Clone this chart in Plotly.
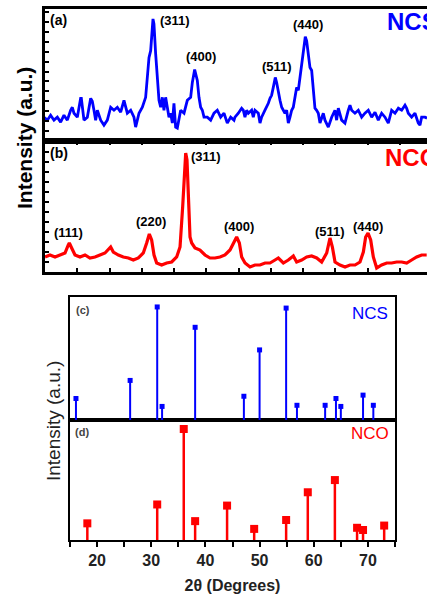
import plotly.graph_objects as go

# ---------------- data ----------------
# (a) measured XRD pattern of NCS (2theta in degrees, intensity in a.u.)
ncs_two_theta = [14.84, 15.36, 15.87, 16.39, 16.91, 17.42, 17.94, 18.46, 18.97, 19.23, 19.49, 20.01,
                 20.52, 20.63, 21.04, 21.56, 22.08, 22.33, 22.59, 22.85, 23.11, 23.63, 24.14, 24.66,
                 25.18, 25.69, 26.21, 26.73, 27.24, 27.76, 28.28, 28.79, 29.05, 29.57, 30.09, 30.60,
                 31.12, 31.38, 31.74, 31.89, 32.15, 32.41, 32.67, 32.93, 33.19, 33.44, 33.70, 33.96,
                 34.22, 34.48, 34.74, 34.99, 35.25, 35.51, 35.77, 36.03, 36.55, 36.80, 37.06, 37.58,
                 37.84, 38.20, 38.35, 38.61, 38.87, 39.13, 39.39, 39.65, 40.16, 40.68, 41.20, 41.71,
                 42.23, 42.75, 43.26, 43.78, 44.30,
                 44.45, 44.97, 45.48, 45.74, 46.00, 46.26, 46.52, 47.03, 47.29, 47.55, 48.07, 48.33,
                 48.58, 49.10, 49.36, 49.62, 49.88, 50.13, 50.39, 50.70, 50.91, 51.17, 51.43, 51.69,
                 51.94, 52.20, 52.46, 52.72, 52.98, 53.24, 53.49, 53.75, 54.01, 54.27, 54.53, 54.79,
                 55.04, 55.35, 55.56, 55.82, 56.08, 56.34, 56.59, 56.85, 57.11, 57.37, 57.63, 57.89,
                 58.14, 58.40, 58.92, 59.44, 59.95, 60.21, 60.47, 60.99, 61.50, 62.02, 62.28, 62.54,
                 63.05, 63.57, 64.09, 64.60, 65.12, 65.64, 66.16, 66.67, 67.19, 67.71, 68.22, 68.74,
                 69.26, 69.78, 70.29, 70.81, 71.07, 71.32, 71.84, 72.36, 72.87, 73.13, 73.39, 73.91,
                 74.22]
ncs_intensity = [24, 21, 26, 21, 24, 19, 26, 21, 31, 34, 28, 24,
                 43, 43, 21, 24, 43, 40, 31, 21, 31, 21, 16, 21,
                 34, 31, 34, 29, 41, 28, 31, 24, 14, 28, 34, 44,
                 84, 91, 123, 118, 88, 61, 41, 34, 44, 31, 44, 34,
                 24, 28, 18, 38, 14, 13, 21, 31, 28, 34, 41, 44,
                 59, 72, 68, 61, 44, 34, 31, 24, 24, 21, 28, 31,
                 24, 28, 18, 24, 21,
                 24, 28, 33, 31, 24, 31, 28, 31, 24, 31, 28, 18,
                 24, 31, 34, 38, 43, 46, 54, 64, 59, 48, 41, 34,
                 31, 28, 31, 18, 24, 31, 34, 44, 54, 51, 64, 78,
                 94, 105, 101, 88, 74, 71, 51, 33, 31, 28, 18, 24,
                 28, 21, 14, 24, 31, 21, 33, 21, 18, 31, 36, 31,
                 28, 31, 24, 28, 31, 24, 29, 21, 28, 24, 18, 31,
                 28, 33, 31, 36, 33, 28, 24, 28, 18, 16, 24, 24,
                 23]

# (b) measured XRD pattern of NCO
nco_two_theta = [15.00, 15.77, 16.55, 17.32, 18.10, 18.61, 18.77, 19.13, 19.65, 20.42, 21.20, 21.97,
                 22.75, 23.52, 24.30, 25.18, 25.59, 26.37, 27.14, 27.92, 28.69, 29.47, 30.24, 30.76,
                 31.17, 31.53, 31.90, 32.31, 33.08, 33.86, 34.64, 35.41, 35.93, 36.34, 36.60, 36.81,
                 37.01, 37.22, 37.48, 37.74, 38.25, 39.03, 39.80, 40.58, 41.35, 42.13, 42.90, 43.68,
                 44.20, 44.71, 45.13, 45.49, 46.01, 46.78, 47.55, 48.33, 49.11, 49.88, 50.66, 51.17,
                 51.95, 52.72, 53.50, 54.01, 54.79, 55.57, 56.34, 57.12, 57.89, 58.67, 59.18, 59.55,
                 59.96, 60.73, 61.51, 62.28, 63.06, 63.83, 64.35, 64.71, 65.08, 65.49, 65.90, 66.42,
                 67.19, 67.97, 68.74, 69.52, 70.29, 71.07, 71.84, 72.62, 73.39, 74.17]
nco_intensity = [15, 17, 15, 17, 19, 27, 29, 24, 17, 15, 17, 14,
                 15, 17, 19, 25, 20, 17, 15, 14, 12, 14, 19, 29,
                 38, 32, 17, 9, 7, 9, 10, 15, 25, 65, 105, 119,
                 112, 72, 35, 29, 24, 22, 17, 14, 14, 15, 17, 22,
                 29, 35, 29, 15, 9, 5, 7, 7, 9, 9, 12, 14,
                 9, 12, 16, 10, 12, 15, 16, 14, 10, 19, 34, 25,
                 10, 7, 5, 7, 7, 10, 20, 35, 39, 32, 15, 4,
                 7, 9, 9, 10, 10, 9, 12, 15, 17, 17]

# (c) reference pattern NCS (2theta, relative intensity)
ncs_ref_two_theta = [16.1, 26.1, 31.1, 32.0, 38.1, 47.1, 50.0, 54.9, 56.9, 62.1, 64.1, 65.0, 69.1, 71.0]
ncs_ref_intensity = [19, 35, 100, 12, 82, 21, 62, 99, 13, 13, 19, 12, 22, 13]

# (d) reference pattern NCO
nco_ref_two_theta = [18.2, 31.1, 36.0, 38.1, 44.0, 49.0, 54.9, 58.9, 63.9, 68.0, 69.1, 73.0]
nco_ref_intensity = [15, 32, 100, 17, 31, 10, 18, 43, 54, 11, 9, 13]

ncs_labels = ["(311)", "(400)", "(511)", "(440)"]
nco_labels = ["(111)", "(220)", "(311)", "(400)", "(511)", "(440)"]
x_ticks = [20, 30, 40, 50, 60, 70]

# ---------------- figure ----------------
W, H = 427, 597
BLUE = "#0000FF"
RED = "#FF0000"
FONT = "Liberation Sans, Arial, sans-serif"


def px(x):
    return x / W


def py(y):
    return 1 - y / H


def stems(xs, ys):
    sx, sy = [], []
    for a, b in zip(xs, ys):
        sx += [a, a, None]
        sy += [0, b, None]
    return sx, sy


fig = go.Figure()

fig.add_trace(go.Scatter(x=ncs_two_theta, y=ncs_intensity, mode="lines",
                         line=dict(color=BLUE, width=2.8), xaxis="x3", yaxis="y", showlegend=False))
fig.add_trace(go.Scatter(x=nco_two_theta, y=nco_intensity, mode="lines",
                         line=dict(color=RED, width=3.2), xaxis="x", yaxis="y2", showlegend=False))

sx, sy = stems(ncs_ref_two_theta, ncs_ref_intensity)
fig.add_trace(go.Scatter(x=sx, y=sy, mode="lines", line=dict(color=BLUE, width=2),
                         xaxis="x4", yaxis="y3", showlegend=False))
fig.add_trace(go.Scatter(x=ncs_ref_two_theta, y=ncs_ref_intensity, mode="markers",
                         marker=dict(color=BLUE, size=5, symbol="square"),
                         xaxis="x4", yaxis="y3", showlegend=False, cliponaxis=False))
sx, sy = stems(nco_ref_two_theta, nco_ref_intensity)
fig.add_trace(go.Scatter(x=sx, y=sy, mode="lines", line=dict(color=RED, width=2.5),
                         xaxis="x2", yaxis="y4", showlegend=False))
fig.add_trace(go.Scatter(x=nco_ref_two_theta, y=nco_ref_intensity, mode="markers",
                         marker=dict(color=RED, size=8, symbol="square"),
                         xaxis="x2", yaxis="y4", showlegend=False, cliponaxis=False))

top_range = [14.92, 74.22]
top_dom = [px(44.5), 1]
bot_dom = [px(70), px(395)]

common_off = dict(showgrid=False, zeroline=False, showticklabels=False)

fig.update_layout(
    width=W, height=H, autosize=False,
    margin=dict(l=0, r=0, t=0, b=0),
    paper_bgcolor="white", plot_bgcolor="white",
    font=dict(family=FONT, color="black"),
    # panel (b) x axis with inside ticks top and bottom
    xaxis=dict(domain=top_dom, range=top_range, anchor="y2", showline=True, linewidth=3,
               linecolor="black", mirror="allticks", ticks="inside", tick0=15, dtick=5,
               ticklen=4, tickwidth=2, tickcolor="black", **common_off),
    # panel (a) x axis: frame only
    xaxis3=dict(domain=top_dom, range=top_range, anchor="y", matches="x", showline=True,
                linewidth=3, linecolor="black", mirror=True, ticks="", **common_off),
    yaxis=dict(domain=[py(141), py(9)], range=[0, 133], anchor="x3", showline=True, linewidth=3,
               linecolor="black", ticks="inside", tick0=0, dtick=10, ticklen=4, tickwidth=2,
               tickcolor="black", **common_off),
    yaxis2=dict(domain=[py(272), py(141)], range=[0, 131], anchor="x", showline=True, linewidth=3,
                linecolor="black", ticks="inside", tick0=0, dtick=10, ticklen=4, tickwidth=2,
                tickcolor="black", **common_off),
    # bottom block
    xaxis2=dict(domain=bot_dom, range=[15, 75], anchor="y4", showline=True, linewidth=2,
                linecolor="black", mirror=True, ticks="outside", tickmode="array",
                tickvals=x_ticks, ticklen=5, tickwidth=2, tickcolor="black",
                minor=dict(ticks="outside", dtick=5, tick0=15, ticklen=5, tickwidth=2,
                           tickcolor="black"),
                tickfont=dict(size=16, family=FONT, weight="bold", color="#222"),
                showgrid=False, zeroline=False,
                title=dict(text="2θ (Degrees)", standoff=12,
                           font=dict(size=16, family=FONT, weight="bold", color="#222"))),
    xaxis4=dict(domain=bot_dom, range=[15, 75], anchor="y3", matches="x2", showline=True,
                linewidth=2, linecolor="black", mirror=True, ticks="", **common_off),
    yaxis3=dict(domain=[py(420), py(297)], range=[0, 108.8], anchor="x4", showline=True,
                linewidth=2, linecolor="black", mirror=True, ticks="", **common_off),
    yaxis4=dict(domain=[py(540), py(420)], range=[0, 108.1], anchor="x2", showline=True,
                linewidth=2, linecolor="black", mirror=True, ticks="", **common_off),
)

ann = []


def add_text(text, x, y, size, color="black", bold=True, xanchor="center", angle=0):
    ann.append(dict(text=text, x=px(x), y=py(y), xref="paper", yref="paper", showarrow=False,
                    xanchor=xanchor, yanchor="middle", textangle=angle,
                    font=dict(size=size, color=color, family=FONT,
                              weight="bold" if bold else "normal")))


# top block
add_text("Intensity (a.u.)", 24, 138, 21, angle=-90)
add_text("(a)", 58, 20, 14)
add_text("(b)", 58.5, 152.5, 14)
add_text("NCS", 385, 21, 24, color=BLUE, xanchor="left")
add_text("NCO", 383, 157, 24, color=RED, xanchor="left")
for lab, (x, y) in zip(ncs_labels, [(174.5, 20), (200.5, 56.5), (276.5, 66), (307.5, 25)]):
    add_text(lab, x, y, 13)
for lab, (x, y) in zip(nco_labels, [(68.5, 232), (151, 221.5), (205.5, 156.5), (239, 226.5),
                                    (329.5, 231.5), (367.5, 226.5)]):
    add_text(lab, x, y, 13)

# bottom block
add_text("Intensity (a.u.)", 53, 421, 19, color="#222", bold=False, angle=-90)
add_text("(c)", 83, 310, 11, color="#444")
add_text("(d)", 82, 432, 11, color="#444")
add_text("NCS", 370, 313, 17, color=BLUE, bold=False)
add_text("NCO", 370, 433, 17, color=RED, bold=False)

fig.update_layout(annotations=ann)

fig.write_html("out.html")
